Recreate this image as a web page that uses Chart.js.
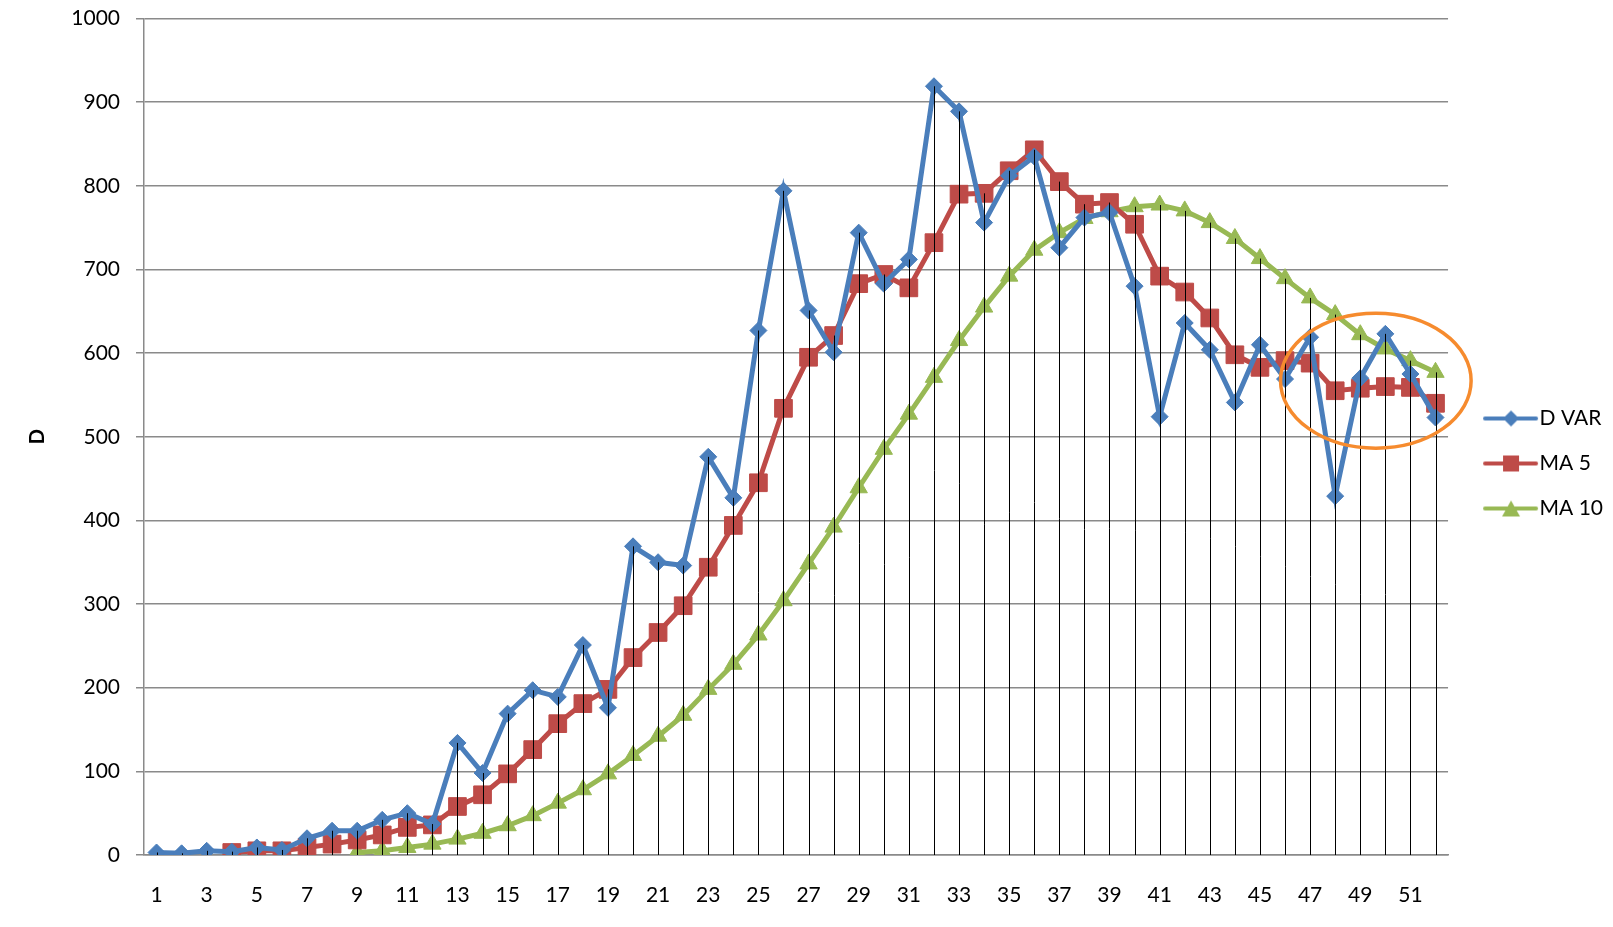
<!DOCTYPE html>
<html lang="en">
<head>
    <meta charset="UTF-8">
    <title>D VAR / MA 5 / MA 10</title>
    <script src="https://cdn.jsdelivr.net/npm/chart.js"></script>
    <style>
        html, body {
            margin: 0;
            padding: 0;
            background: #fff;
        }
        canvas {
            display: block;
        }
    </style>
</head>
<body>
    <canvas id="lineChart" width="1613" height="927"></canvas>
    <script>
    // week numbers on the category axis
    const weeks = ['1','2','3','4','5','6','7','8','9','10','11','12','13','14','15','16','17','18','19','20',
        '21','22','23','24','25','26','27','28','29','30','31','32','33','34','35','36','37','38','39','40',
        '41','42','43','44','45','46','47','48','49','50','51','52'];

    const dVar = [3, 2, 5, 4, 9, 6, 20, 29, 29, 42, 50, 37, 134, 98, 169, 197, 189, 251, 176, 369,
        350, 346, 476, 427, 627, 794, 651, 601, 744, 683, 712, 919, 889, 756, 812, 835, 726, 762, 768, 680,
        524, 636, 604, 541, 610, 569, 619, 429, 570, 623, 575, 523];

    const ma5 = [null, null, null, 3, 5, 5, 9, 13, 18, 24, 33, 36, 58, 72, 97, 126, 157, 181, 198, 236,
        266, 298, 344, 394, 445, 534, 595, 621, 683, 694, 678, 732, 790, 791, 818, 843, 805, 778, 780, 754,
        692, 673, 642, 598, 583, 591, 588, 555, 558, 560, 559, 540];

    const ma10 = [null, null, null, null, null, null, null, null, 3, 5, 9, 13, 19, 26, 35, 47, 62, 78, 97, 119,
        142, 167, 198, 228, 263, 304, 348, 392, 439, 485, 527, 571, 615, 655, 692, 723, 744, 761, 769, 775,
        777, 770, 756, 737, 713, 689, 666, 646, 622, 605, 591, 577];

    const yTicks = [0, 100, 200, 300, 400, 500, 600, 700, 800, 900, 1000];

    // hand-drawn ellipse around the last weeks (category index, value, half spans)
    const noteIndex = 48.62;
    const noteValue = 567;
    const noteHalfWeeks = 3.8;
    const noteHalfValue = 80.6;

    const FONT = 'Lato, "Liberation Sans", sans-serif';
    const BLUE = '#4a7ebb';
    const RED = '#be4b48';
    const GREEN = '#98b954';
    const GRID = '#8a8a8a';

    // little line+marker pictures for the legend
    function legendIcon(color, shape) {
        const c = document.createElement('canvas');
        c.width = 77;
        c.height = 24;
        const g = c.getContext('2d');
        g.strokeStyle = color;
        g.fillStyle = color;
        g.lineWidth = 4;
        g.lineCap = 'round';
        g.beginPath();
        g.moveTo(23, 12);
        g.lineTo(74, 12);
        g.stroke();
        const cx = 49, cy = 12;
        g.beginPath();
        if (shape === 'diamond') {
            g.moveTo(cx, cy - 8); g.lineTo(cx + 8, cy); g.lineTo(cx, cy + 8); g.lineTo(cx - 8, cy);
        } else if (shape === 'square') {
            g.rect(cx - 8, cy - 8, 16, 16);
        } else {
            g.moveTo(cx, cy - 8); g.lineTo(cx + 9, cy + 8); g.lineTo(cx - 9, cy + 8);
        }
        g.closePath();
        g.fill();
        return c;
    }
    const legendIcons = [legendIcon(BLUE, 'diamond'), legendIcon(RED, 'square'), legendIcon(GREEN, 'triangle')];

    // Excel style drop lines: from the highest point of each week down to the axis
    const dropLines = {
        id: 'dropLines',
        afterDatasetsDraw(chart) {
            const {ctx, chartArea, scales: {x, y}} = chart;
            ctx.save();
            ctx.strokeStyle = '#000';
            ctx.lineWidth = 1;
            weeks.forEach((w, i) => {
                const vals = chart.data.datasets.map(ds => ds.data[i]).filter(v => v !== null);
                const top = Math.max(...vals);
                const px = Math.round(x.getPixelForValue(i)) + 0.5;
                ctx.beginPath();
                ctx.moveTo(px, y.getPixelForValue(top));
                ctx.lineTo(px, chartArea.bottom);
                ctx.stroke();
            });
            ctx.restore();
        }
    };

    const noteEllipse = {
        id: 'noteEllipse',
        afterDatasetsDraw(chart) {
            const {ctx, scales: {x, y}} = chart;
            const cx = x.getPixelForValue(noteIndex);
            const cy = y.getPixelForValue(noteValue);
            const rx = x.getPixelForValue(noteIndex + noteHalfWeeks) - cx;
            const ry = cy - y.getPixelForValue(noteValue + noteHalfValue);
            ctx.save();
            ctx.strokeStyle = '#f68b2e';
            ctx.lineWidth = 3.5;
            ctx.beginPath();
            ctx.ellipse(cx, cy, rx, ry, 0, 0, Math.PI * 2);
            ctx.stroke();
            ctx.restore();
        }
    };

    function series(label, data, color, style, radius) {
        return {
            label: label,
            data: data,
            borderColor: color,
            backgroundColor: color,
            borderWidth: 5,
            pointStyle: style,
            pointRadius: radius,
            pointHoverRadius: radius,
            pointBackgroundColor: color,
            pointBorderColor: color,
            pointBorderWidth: 1,
            tension: 0,
            spanGaps: false
        };
    }

    new Chart(document.getElementById('lineChart'), {
        type: 'line',
        data: {
            labels: weeks,
            datasets: [
                series('D VAR', dVar, BLUE, 'rectRot', 8.5),
                series('MA 5', ma5, RED, 'rect', 12.5),
                series('MA 10', ma10, GREEN, 'triangle', 10)
            ]
        },
        options: {
            responsive: false,
            animation: false,
            devicePixelRatio: 1,
            layout: { autoPadding: false, padding: 0 },
            plugins: {
                legend: {
                    position: 'right',
                    labels: {
                        usePointStyle: true,
                        pointStyleWidth: 57,
                        boxHeight: 20,
                        padding: 24,
                        color: '#000',
                        font: { family: FONT, size: 21 },
                        generateLabels: chart => chart.data.datasets.map((ds, i) => ({
                            text: ds.label,
                            pointStyle: legendIcons[i],
                            fillStyle: ds.borderColor,
                            strokeStyle: ds.borderColor,
                            lineWidth: 0,
                            hidden: false,
                            datasetIndex: i
                        }))
                    }
                },
                tooltip: { enabled: false }
            },
            scales: {
                x: {
                    offset: true,
                    grid: { display: false },
                    border: { display: true, color: GRID, width: 1.5 },
                    ticks: {
                        autoSkip: false,
                        maxRotation: 0,
                        padding: 20,
                        color: '#000',
                        font: { family: FONT, size: 21 },
                        callback: (v, i) => i % 2 === 0 ? weeks[i] : ''
                    },
                    afterFit: s => { s.height = 72; }
                },
                y: {
                    min: 0,
                    max: 1000,
                    afterBuildTicks: s => { s.ticks = yTicks.map(v => ({ value: v })); },
                    grid: { color: GRID, lineWidth: 1.5, tickLength: 8, tickColor: GRID },
                    border: { color: GRID, width: 1.5 },
                    ticks: {
                        padding: 16,
                        color: '#000',
                        font: { family: FONT, size: 21 },
                        callback: v => String(v)
                    },
                    title: {
                        display: true,
                        text: 'D',
                        color: '#000',
                        font: { family: FONT, size: 20, weight: 'bold' },
                        padding: { top: 26, bottom: 0 }
                    },
                    afterFit: s => {
                        s.width = 144;
                        s.paddingTop = 18.5;
                        s.paddingBottom = 0;
                    }
                }
            }
        },
        plugins: [dropLines, noteEllipse]
    });
    </script>
</body>
</html>
